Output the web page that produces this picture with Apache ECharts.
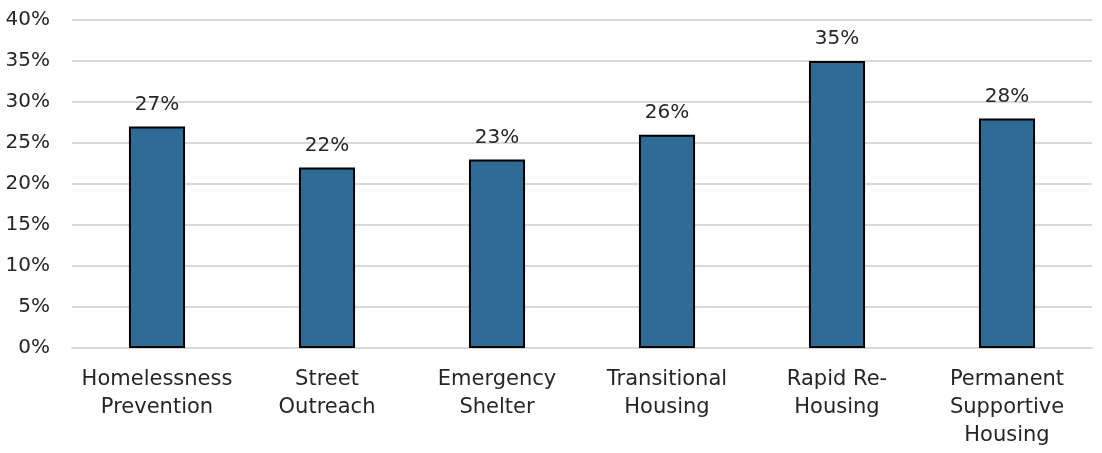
<!DOCTYPE html>
<html><head><meta charset="utf-8">
<script src="https://cdn.jsdelivr.net/npm/echarts@6/dist/echarts.min.js"></script>
<style>html,body{margin:0;padding:0;background:#fff}#c{width:1102px;height:453px}</style>
</head><body><div id="c"></div>
<script>
const categories = ["Homelessness\nPrevention", "Street\nOutreach", "Emergency\nShelter", "Transitional\nHousing", "Rapid Re-\nHousing", "Permanent\nSupportive\nHousing"];
const values = [27, 22, 23, 26, 35, 28];
const yTicks = { min: 0, max: 40, interval: 5 };
const FONT = "DejaVu Sans";
const chart = echarts.init(document.getElementById('c'), null, { renderer: 'canvas' });
chart.setOption({
  animation: false,
  backgroundColor: '#fff',
  grid: { left: 72, right: 10, top: 20, bottom: 105, containLabel: false },
  xAxis: {
    type: 'category', data: categories,
    axisLine: { show: true, lineStyle: { color: '#d9d9d9', width: 2 } },
    axisTick: { show: false },
    axisLabel: { color: '#262626', fontFamily: FONT, fontSize: 21, lineHeight: 28, margin: 18, interval: 0 }
  },
  yAxis: {
    type: 'value', min: yTicks.min, max: yTicks.max, interval: yTicks.interval,
    axisLine: { show: false }, axisTick: { show: false },
    splitLine: { lineStyle: { color: '#d9d9d9', width: 2 } },
    axisLabel: { color: '#262626', fontFamily: FONT, fontSize: 20, margin: 22, formatter: v => v + '%' }
  },
  series: [{
    type: 'bar', data: values, barWidth: '33%',
    itemStyle: { color: '#2E6C96', borderColor: '#000', borderWidth: 2 },
    label: { show: true, position: 'top', distance: 12, color: '#262626', fontFamily: FONT, fontSize: 20, formatter: p => p.value + '%' }
  }]
});
</script></body></html>
